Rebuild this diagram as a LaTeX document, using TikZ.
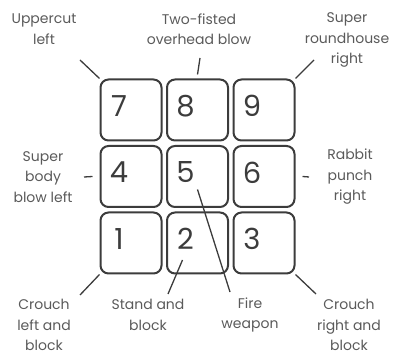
\documentclass[tikz,border=0pt]{standalone}
\usepackage{fontspec}
\setmainfont{Poppins}
\definecolor{keyline}{HTML}{3C3C3C}
\definecolor{labelgray}{HTML}{5A5A5A}
\tikzset{
  key/.style={draw=keyline, line width=2pt, rounded corners=8pt, minimum size=61pt, inner sep=0pt},
  num/.style={text=keyline, font=\fontsize{29}{29}\selectfont, inner sep=0pt},
  lbl/.style={text=labelgray, align=center, font=\fontsize{14}{20.5}\selectfont, inner sep=0pt},
  lead/.style={draw=keyline, line width=1.3pt}
}
\begin{document}
\begin{tikzpicture}[x=1pt, y=-1pt]
    \useasboundingbox (0,0) rectangle (399,355);
    % keypad
    \foreach \n/\x/\y in {7/131/110, 8/197.5/110, 9/264/110,
                          4/131/176.5, 5/197.5/176.5, 6/264/176.5,
                          1/131/243, 2/197.5/243, 3/264/243} {
        \node[key] (k\n) at (\x,\y) {};
        \node[num] (n\n) at ([xshift=-12pt, yshift=4pt]k\n.center) {\n};
    }
    % labels
    \node[lbl] (up)   at (44,29)   {Uppercut\\left};
    \node[lbl] (two)  at (199,29)  {Two-fisted\\overhead blow};
    \node[lbl] (rnd)  at (347,40)  {Super\\roundhouse\\right};
    \node[lbl] (body) at (43,177)  {Super\\body\\blow left};
    \node[lbl] (rab)  at (350,177) {Rabbit\\punch\\right};
    \node[lbl] (crl)  at (44,325)  {Crouch\\left and\\block};
    \node[lbl] (std)  at (148,315) {Stand and\\block};
    \node[lbl] (fire) at (250,315) {Fire\\weapon};
    \node[lbl] (crr)  at (349,325) {Crouch\\right and\\block};
    % leads
    \coordinate (e7) at (80,60);
    \coordinate (e8) at (200,58);
    \coordinate (e9) at (314,60);
    \coordinate (e4) at (84,177);
    \coordinate (e6) at (309,177);
    \coordinate (e1) at (80,295);
    \coordinate (e2) at (168,294);
    \coordinate (e5) at (230,292);
    \coordinate (e3) at (316,294);
    \draw[lead] (e7) -- (k7.north west);
    \draw[lead] (e8) -- ([yshift=4pt]k8.north);
    \draw[lead] (e9) -- (k9.north east);
    \draw[lead] (e4) -- ([xshift=-7pt]k4.west);
    \draw[lead] (e6) -- ([xshift=7pt]k6.east);
    \draw[lead] (e1) -- (k1.south west);
    \draw[lead] (e2) -- ([xshift=-15pt, yshift=-17pt]k2.center);
    \draw[lead] (e5) -- ([yshift=-13pt]k5.center);
    \draw[lead] (e3) -- (k3.south east);
\end{tikzpicture}
\end{document}
